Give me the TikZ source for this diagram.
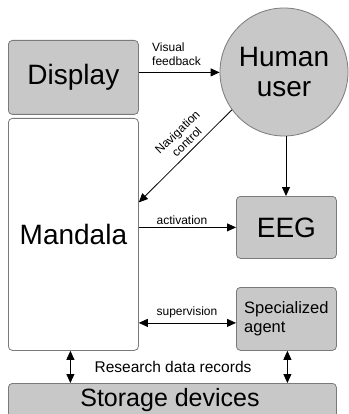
\documentclass[tikz,border=0pt]{standalone}
\usepackage{fontspec}
\setmainfont{Liberation Sans}
\usetikzlibrary{arrows.meta}
\definecolor{boxfill}{HTML}{C8C8C8}
\definecolor{boxedge}{HTML}{7A7A7A}
\begin{document}
\begin{tikzpicture}[x=1pt,y=-1pt,
  box/.style={draw=boxedge, fill=boxfill, rounded corners=4pt, line width=0.8pt, inner sep=0pt},
  big/.style={font=\fontsize{28}{32}\selectfont},
  small/.style={font=\fontsize{12}{13.5}\selectfont, inner sep=1pt},
  arr/.style={-{Triangle[length=9pt,width=8pt]}, line width=0.8pt},
  darr/.style={{Triangle[length=9pt,width=8pt]}-{Triangle[length=9pt,width=8pt]}, line width=0.8pt}]
\useasboundingbox (0,0) rectangle (348,414);

% blocks
\node[box, big, anchor=north west, minimum width=130pt, minimum height=74pt] (disp) at (8,40) {Display};
\node[box, big, fill=white, anchor=north west, minimum width=130pt, minimum height=232pt] (mand) at (8,118) {Mandala};
\node[circle, draw=boxedge, fill=boxfill, line width=0.8pt, minimum size=128pt, inner sep=0pt,
      big, align=center] (user) at (284,72) {Human\\[-2pt]user};
\node[box, big, anchor=north west, minimum width=100pt, minimum height=62pt] (eeg) at (236,196) {EEG};
\node[box, anchor=north west, minimum width=100pt, minimum height=63pt, align=left,
      font=\fontsize{16.5}{19}\selectfont] (agent) at (236,287) {Specialized\\agent};
\node[box, anchor=north west, minimum width=328pt, minimum height=40pt] (store) at (8,383) {};
\node[font=\fontsize{25}{28}\selectfont] (storetxt) at (170,400) {Storage devices};

% connectors
\draw[arr] ([yshift=5pt]disp.east) -- ([yshift=5pt]disp.east -| user.west);
\draw[arr] (user.216) -- ([yshift=32pt]mand.east);
\draw[arr] ([xshift=2pt]user.south) -- ([xshift=2pt]user.south |- eeg.north);
\draw[arr] (mand.east |- eeg.west) -- (eeg.west);
\draw[darr] ([yshift=-4pt]mand.east |- agent.west) -- ([yshift=-4pt]agent.west);
\draw[darr] ([xshift=-3pt]mand.south) -- ([xshift=-3pt]mand.south |- store.north);
\draw[darr] ([xshift=1pt]agent.south) -- ([xshift=1pt]agent.south |- store.north);

% labels
\node[small, align=left, anchor=west] (lvis) at (151,54) {Visual\\feedback};
\node[small, align=center, rotate=44] (lnav) at (182,137) {Navigation\\control};
\node[small] (lact) at (182,220) {activation};
\node[small] (lsup) at (187,312) {supervision};
\node[font=\fontsize{15.5}{18}\selectfont] (lrec) at (173,367) {Research data records};
\end{tikzpicture}
\end{document}
